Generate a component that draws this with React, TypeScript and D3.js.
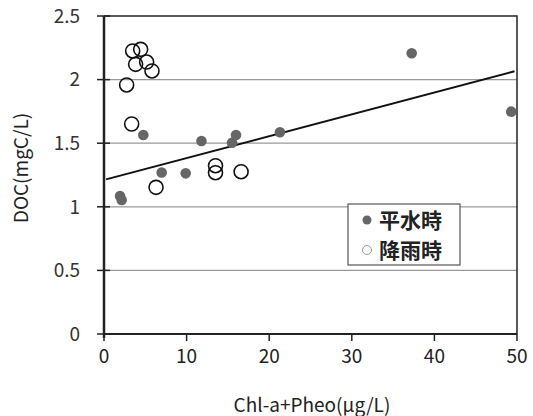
import React, { useEffect, useRef } from 'react';
import * as d3 from 'd3';

// 平水時 (filled)
const normalX = [1.94, 2.14, 4.76, 6.98, 9.89, 11.8, 15.98, 15.5, 21.3, 37.25, 49.3];
const normalY = [1.085, 1.053, 1.565, 1.27, 1.263, 1.517, 1.564, 1.504, 1.586, 2.207, 1.748];

// 降雨時 (open)
const rainX = [3.47, 4.44, 3.83, 5.16, 5.81, 2.74, 3.35, 6.3, 13.5, 13.5, 16.6];
const rainY = [2.225, 2.238, 2.12, 2.138, 2.068, 1.958, 1.651, 1.153, 1.323, 1.268, 1.276];

const xTicks = [0, 10, 20, 30, 40, 50];
const yTicks = [0, 0.5, 1, 1.5, 2, 2.5];
const trendRange = [0.25, 49.7];

const font = '"Noto Sans CJK JP", "Noto Sans", sans-serif';

const App = () => {
  const ref = useRef<SVGSVGElement>(null);

  useEffect(() => {
    const width = 533;
    const height = 416;
    const margin = { top: 16, left: 104, bottom: 82, right: 16 };
    const iwidth = width - margin.left - margin.right;
    const iheight = height - margin.top - margin.bottom;

    const svg = d3.select(ref.current);
    svg.selectAll('*').remove();
    svg.attr('width', width).attr('height', height);

    const g = svg.append('g').attr('transform', `translate(${margin.left},${margin.top})`);

    const x = d3.scaleLinear().domain([0, 50]).range([0, iwidth]);
    const y = d3.scaleLinear().domain([0, 2.5]).range([iheight, 0]);

    // gridlines
    g.selectAll('.grid')
      .data(yTicks.filter((d) => d > 0 && d < 2.5))
      .enter()
      .append('line')
      .attr('x1', 0)
      .attr('x2', iwidth)
      .attr('y1', (d) => y(d))
      .attr('y2', (d) => y(d))
      .attr('stroke', '#999')
      .attr('stroke-width', 1.2);

    // plot border (top / right)
    g.append('path')
      .attr('d', `M0,${y(2.5)}H${iwidth}V${iheight}`)
      .attr('fill', 'none')
      .attr('stroke', '#222')
      .attr('stroke-width', 1.5);

    // y axis
    const yAxis = g.append('g');
    yAxis.append('line').attr('x1', 0).attr('x2', 0).attr('y1', 0).attr('y2', iheight + 4)
      .attr('stroke', '#222').attr('stroke-width', 2.5);
    yAxis.selectAll('.tick')
      .data(yTicks)
      .enter()
      .append('line')
      .attr('x1', -7)
      .attr('x2', 6)
      .attr('y1', (d) => y(d))
      .attr('y2', (d) => y(d))
      .attr('stroke', '#222')
      .attr('stroke-width', 1.5);
    yAxis.selectAll('.lbl')
      .data(yTicks)
      .enter()
      .append('text')
      .attr('x', -24)
      .attr('y', (d) => y(d))
      .attr('dy', '0.36em')
      .attr('text-anchor', 'end')
      .attr('font-family', font)
      .attr('font-size', 19)
      .attr('fill', '#333')
      .text((d) => String(d));

    // x axis
    const xAxis = g.append('g').attr('transform', `translate(0,${iheight})`);
    xAxis.append('line').attr('x1', 0).attr('x2', iwidth).attr('stroke', '#222').attr('stroke-width', 2);
    xAxis.selectAll('.tick')
      .data(xTicks)
      .enter()
      .append('line')
      .attr('x1', (d) => x(d))
      .attr('x2', (d) => x(d))
      .attr('y1', 0)
      .attr('y2', 7)
      .attr('stroke', '#222')
      .attr('stroke-width', 1.5);
    xAxis.selectAll('.lbl')
      .data(xTicks)
      .enter()
      .append('text')
      .attr('x', (d) => x(d))
      .attr('y', 29)
      .attr('text-anchor', 'middle')
      .attr('font-family', font)
      .attr('font-size', 19)
      .attr('fill', '#222')
      .text((d) => String(d));

    // trend line (least squares on 平水時)
    const mx = d3.mean(normalX) as number;
    const my = d3.mean(normalY) as number;
    const sxy = d3.sum(normalX.map((v, i) => (v - mx) * (normalY[i] - my)));
    const sxx = d3.sum(normalX.map((v) => (v - mx) * (v - mx)));
    const slope = sxy / sxx;
    const icpt = my - slope * mx;
    g.append('path')
      .datum(trendRange)
      .attr('d', d3.line<number>().x((d) => x(d)).y((d) => y(icpt + slope * d)))
      .attr('stroke', '#111')
      .attr('stroke-width', 2)
      .attr('fill', 'none');

    // points
    g.selectAll('.normal')
      .data(normalX.map((v, i) => [v, normalY[i]]))
      .enter()
      .append('circle')
      .attr('cx', (d) => x(d[0]))
      .attr('cy', (d) => y(d[1]))
      .attr('r', 5.3)
      .attr('fill', '#666');

    g.selectAll('.rain')
      .data(rainX.map((v, i) => [v, rainY[i]]))
      .enter()
      .append('circle')
      .attr('cx', (d) => x(d[0]))
      .attr('cy', (d) => y(d[1]))
      .attr('r', 7)
      .attr('fill', 'none')
      .attr('stroke', '#111')
      .attr('stroke-width', 1.6);

    // legend
    const lg = svg.append('g').attr('transform', 'translate(348,204)');
    lg.append('rect').attr('width', 112).attr('height', 61).attr('fill', '#fff')
      .attr('stroke', '#555').attr('stroke-width', 1.2);
    lg.append('circle').attr('cx', 19).attr('cy', 16).attr('r', 4.5).attr('fill', '#666');
    lg.append('circle').attr('cx', 19).attr('cy', 46).attr('r', 4.5).attr('fill', '#fff')
      .attr('stroke', '#999').attr('stroke-width', 1);
    lg.selectAll('.ltxt')
      .data(['平水時', '降雨時'])
      .enter()
      .append('text')
      .attr('x', 31)
      .attr('y', (d, i) => 16 + i * 30)
      .attr('dy', '0.36em')
      .attr('font-family', font)
      .attr('font-size', 21)
      .attr('font-weight', 'bold')
      .attr('fill', '#222')
      .text((d) => d);

    // axis titles
    svg.append('text')
      .attr('x', 312)
      .attr('y', 412)
      .attr('text-anchor', 'middle')
      .attr('font-family', font)
      .attr('font-size', 19)
      .attr('fill', '#222')
      .text('Chl-a+Pheo(μg/L)');

    svg.append('text')
      .attr('transform', 'translate(28,168) rotate(-90)')
      .attr('text-anchor', 'middle')
      .attr('font-family', font)
      .attr('font-size', 19)
      .attr('fill', '#222')
      .text('DOC(mgC/L)');
  }, []);

  return (
    <div>
      <svg ref={ref} style={{ position: 'absolute', left: 0, top: 0 }}></svg>
    </div>
  );
};

export default App;
